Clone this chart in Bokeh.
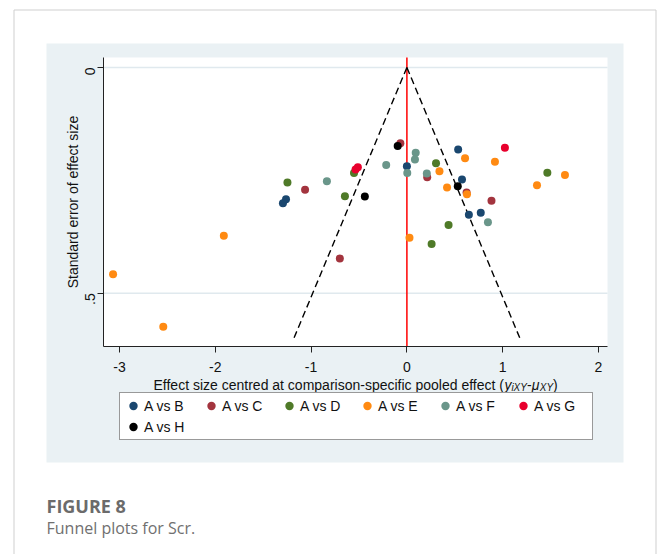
import math
from bokeh.plotting import figure
from bokeh.models import Range1d, FixedTicker, Legend, LegendItem, Label
from bokeh.embed import file_html
from bokeh.resources import INLINE

# ---------------- data ----------------
groups = ["A vs B", "A vs C", "A vs D", "A vs E", "A vs F", "A vs G", "A vs H"]
colors = ["#1a476f", "#a3343e", "#4f7a28", "#ff8a12", "#6a968a", "#e8002d", "#000000"]

b_x = [0.535, 0.000, 0.575, -1.262, -1.294, 0.647, 0.771]
b_se = [0.182, 0.219, 0.248, 0.292, 0.301, 0.326, 0.322]
c_x = [-0.068, 0.212, -1.063, 0.623, 0.883, -0.700]
c_se = [0.168, 0.243, 0.271, 0.277, 0.295, 0.423]
d_x = [0.304, -0.552, -1.247, -0.647, 1.466, 0.435, 0.258]
d_se = [0.212, 0.234, 0.255, 0.285, 0.233, 0.349, 0.391]
e_x = [0.607, 0.919, 0.340, 0.419, 0.627, 1.358, 1.650, 0.027, -1.911, -3.067, -2.543]
e_se = [0.201, 0.209, 0.230, 0.266, 0.281, 0.261, 0.238, 0.377, 0.373, 0.458, 0.574]
f_x = [0.092, 0.084, -0.216, 0.004, 0.208, -0.835, 0.846]
f_se = [0.189, 0.204, 0.216, 0.234, 0.235, 0.252, 0.343]
g_x = [1.023, -0.512, -0.536]
g_se = [0.178, 0.221, 0.226]
h_x = [-0.096, 0.531, -0.439]
h_se = [0.174, 0.263, 0.286]

series_x = [b_x, c_x, d_x, e_x, f_x, g_x, h_x]
series_se = [b_se, c_se, d_se, e_se, f_se, g_se, h_se]

funnel_se = [0.0, 0.60]
funnel_left = [0.0, -1.18]
funnel_right = [0.0, 1.18]
null_effect = [0.0, 0.0]

x_ticks = [-3, -2, -1, 0, 1, 2]
x_tick_labels = ["-3", "-2", "-1", "0", "1", "2"]
y_ticks = [0, 0.5]
y_tick_labels = ["0", ".5"]

# plot-region data limits
X_MIN, X_MAX = -3.167, 2.094
SE_MIN, SE_MAX = -0.022, 0.618

# ---------------- layout (pixels) ----------------
W, H = 658, 554
PL, PR, PT, PB = 103, 607, 57, 346          # plot region in the page
PANEL_L, PANEL_R, PANEL_T, PANEL_B = 46, 623, 43, 462
PANEL = "#eaf1f4"
FONT = "Liberation Sans"

SX = (PR - PL) / (X_MAX - X_MIN)
SY = (PB - PT) / (SE_MAX - SE_MIN)


def px2x(px):
    return X_MIN + (px - PL) / SX


def px2y(py):
    return SE_MIN + (py - PT) / SY


p = figure(width=W, height=H, output_backend="svg", toolbar_location=None, title=None,
           x_range=Range1d(px2x(0), px2x(W)), y_range=Range1d(px2y(H), px2y(0)),
           min_border=0, border_fill_color="white",
           background_fill_color="white", outline_line_color=None)

# page decorations
p.segment(x0=[px2x(13.5), px2x(13.5), px2x(655.5)],
          y0=[px2y(9.5), px2y(9.5), px2y(9.5)],
          x1=[px2x(13.5), px2x(655.5), px2x(655.5)],
          y1=[px2y(H + 5), px2y(9.5), px2y(H + 5)],
          line_color="#cfcfcf", line_width=1)
p.quad(left=px2x(PANEL_L), right=px2x(PANEL_R), top=px2y(PANEL_T), bottom=px2y(PANEL_B),
       fill_color=PANEL, line_color=None)
p.quad(left=X_MIN, right=X_MAX, top=SE_MIN, bottom=SE_MAX,
       fill_color="white", line_color=None)

# grid lines
p.segment(x0=[X_MIN] * len(y_ticks), x1=[X_MAX] * len(y_ticks), y0=y_ticks, y1=y_ticks,
          line_color="#e0e9ee", line_width=1.5)

# axes
p.xaxis.fixed_location = SE_MAX
p.xaxis.bounds = (X_MIN, X_MAX)
p.yaxis.fixed_location = X_MIN
p.yaxis.bounds = (SE_MIN, SE_MAX)
p.xaxis.ticker = FixedTicker(ticks=x_ticks)
p.xaxis.major_label_overrides = dict(zip(x_ticks, x_tick_labels))
p.yaxis.ticker = FixedTicker(ticks=y_ticks)
p.yaxis.major_label_overrides = dict(zip(y_ticks, y_tick_labels))
p.yaxis.major_label_orientation = math.pi / 2
for ax in (p.xaxis[0], p.yaxis[0]):
    ax.minor_tick_line_color = None
    ax.major_tick_in = 0
    ax.major_tick_out = 6
    ax.axis_line_color = "#222222"
    ax.major_tick_line_color = "#222222"
    ax.major_label_text_font = FONT
    ax.major_label_text_font_size = "14px"
    ax.major_label_text_color = "#111111"
p.xaxis.major_label_standoff = 9
p.yaxis.major_label_standoff = 7
p.xgrid.visible = False
p.ygrid.visible = False

# reference lines
p.segment(x0=null_effect[0], x1=null_effect[1], y0=SE_MIN, y1=SE_MAX,
          line_color="#ff0000", line_width=1.5)
p.line(funnel_left, funnel_se, line_color="black", line_width=1.4, line_dash="7 4")
p.line(funnel_right, funnel_se, line_color="black", line_width=1.4, line_dash="7 4")

items = []
for name, col, xs, ys in zip(groups, colors, series_x, series_se):
    r = p.scatter(xs, ys, size=8, fill_color=col, line_color=None)
    items.append(LegendItem(label=name, renderers=[r]))

legend = Legend(items=items, location=(119, H - 440), orientation="horizontal", ncols=6,
                padding=2, spacing=0, margin=0, glyph_width=22, glyph_height=21,
                label_height=21, label_width=56, label_standoff=0,
                label_text_font=FONT, label_text_font_size="14px",
                label_text_color="#111111", border_line_color="#333333",
                border_line_width=1, background_fill_color="white",
                background_fill_alpha=1.0)
p.add_layout(legend)


def add_text(txt, px, py, size, style="normal", font=FONT, color="#111111",
             angle=0.0, align="left", baseline="alphabetic"):
    p.add_layout(Label(x=px2x(px), y=px2y(py), text=txt, text_font=font,
                       text_font_size=size, text_font_style=style, text_color=color,
                       text_baseline=baseline, text_align=align, angle=angle))


# y-axis title
add_text("Standard error of effect size", 72, (PT + PB) / 2, "14px",
         angle=math.pi / 2, align="center", baseline="middle")

# x-axis title with subscripts
add_text("Effect size centred at comparison-specific pooled effect (", 153.0, 384, "14px")
add_text("y", 503.9, 384, "14px", "italic")
add_text("iXY", 510.9, 387, "10px", "italic")
add_text("-", 526.5, 384, "14px")
add_text("\u03bc", 531.2, 384, "14px", "italic")
add_text("XY", 539.3, 387, "10px", "italic")
add_text(")", 552.6, 384, "14px")

# caption
add_text("FIGURE 8", 46, 505, "18px", "bold", font="Open Sans", color="#6b6b6b")
add_text("Funnel plots for Scr.", 46, 527, "16px", font="Open Sans", color="#707070")

open("out.html", "w").write(file_html(p, INLINE))
